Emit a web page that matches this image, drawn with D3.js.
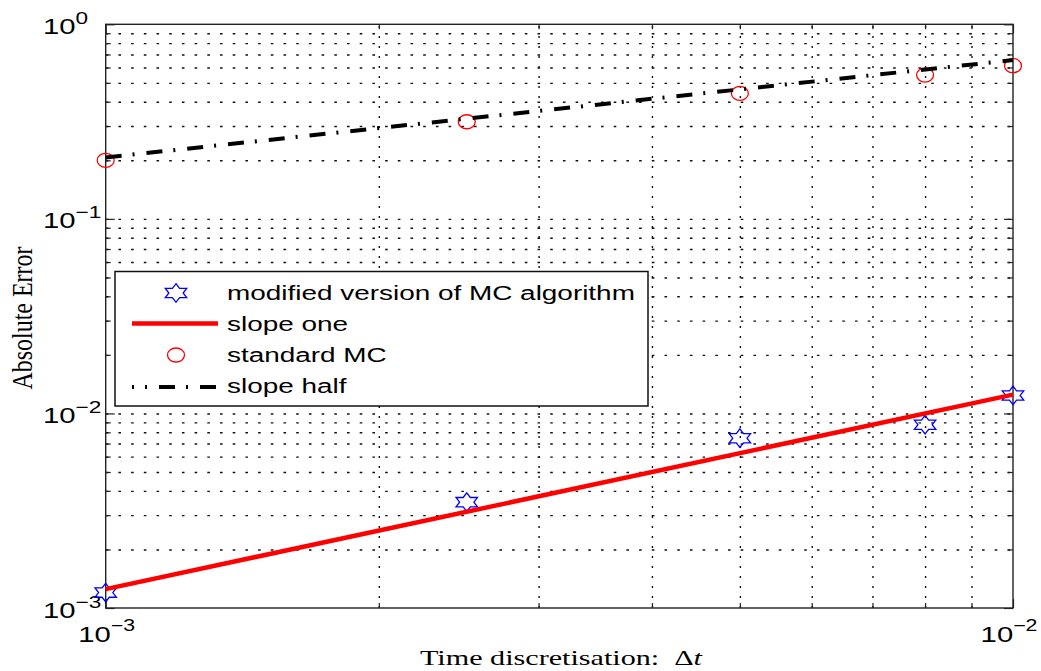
<!DOCTYPE html>
<html><head><meta charset="utf-8">
<script src="https://cdn.jsdelivr.net/npm/d3@7"></script>
<style>body{margin:0;background:#fff}svg{display:block}</style>
</head><body>
<svg id="chart" width="1041" height="671"></svg>
<script>
// ---- data ----
const timeSteps   = [0.001, 0.0025, 0.005, 0.008, 0.01];
const modifiedMC  = [0.00120, 0.00350, 0.00746, 0.00875, 0.01237];
const standardMC  = [0.200, 0.3156, 0.4417, 0.5484, 0.6126];
const slopeOneX   = [0.001, 0.01];
const slopeOneY   = [0.00125, 0.0125];
const slopeHalfX  = [0.001, 0.01];
const slopeHalfY  = [0.207, 0.6546];
const xTickValues = [0.001, 0.01];
const xTickExponents = ["\u22123", "\u22122"];
const yTickValues = [0.001, 0.01, 0.1, 1];
const yTickExponents = ["\u22123", "\u22122", "\u22121", "0"];
const legendLabels = ["modified version of MC algorithm", "slope one", "standard MC", "slope half"];
const xLabelText = "Time discretisation:\u00a0\u00a0\u0394";
const xLabelItalic = "t";
const yLabelText = "Absolute Error";

// ---- layout ----
const L = 105.7, R = 1013, T = 24.3, B = 608;
const SX = 1.33; // horizontal stretch of the reference rendering
const svg = d3.select("#chart");
const x = d3.scaleLog().domain([1e-3, 1e-2]).range([L, R]);
const y = d3.scaleLog().domain([1e-3, 1]).range([B, T]);

const xAll = x.ticks();
const yAll = y.ticks();
const xGrid = xAll.filter(v => v > 1.0001e-3 && v < 0.99e-2);
const yGrid = yAll.filter(v => v > 1.0001e-3 && v < 0.99);
const xMinor = xAll.filter(v => !xTickValues.some(t => Math.abs(t - v) / t < 1e-6));
const yMinor = yAll.filter(v => !yTickValues.some(t => Math.abs(t - v) / t < 1e-6));

// ---- grid ----
const gridY = svg.append("g").attr("transform", `translate(${L},0)`)
  .call(d3.axisLeft(y).tickValues(yGrid).tickSize(-(R - L)).tickFormat(""));
gridY.select(".domain").remove();
gridY.selectAll("line").attr("stroke", "#111").attr("stroke-width", 1.4).attr("stroke-dasharray", "2.6,10.1");

const gridX = svg.append("g").attr("transform", `translate(0,${B})`)
  .call(d3.axisBottom(x).tickValues(xGrid).tickSize(-(B - T)).tickFormat(""));
gridX.select(".domain").remove();
gridX.selectAll("line").attr("stroke", "#111").attr("stroke-width", 1.4).attr("stroke-dasharray", "2,8");

// ---- ticks (inside, all four sides) ----
function tickAxis(axis, transform) {
  const g = svg.append("g").attr("transform", transform).call(axis);
  g.select(".domain").remove();
  g.selectAll("line").attr("stroke", "#222").attr("stroke-width", 1.2);
}
tickAxis(d3.axisLeft(y).tickValues(yMinor).tickSize(-5).tickFormat(""), `translate(${L},0)`);
tickAxis(d3.axisLeft(y).tickValues(yTickValues).tickSize(-9).tickFormat(""), `translate(${L},0)`);
tickAxis(d3.axisRight(y).tickValues(yMinor).tickSize(-5).tickFormat(""), `translate(${R},0)`);
tickAxis(d3.axisRight(y).tickValues(yTickValues).tickSize(-9).tickFormat(""), `translate(${R},0)`);
tickAxis(d3.axisBottom(x).tickValues(xMinor).tickSize(-5).tickFormat(""), `translate(0,${B})`);
tickAxis(d3.axisBottom(x).tickValues(xTickValues).tickSize(-9).tickFormat(""), `translate(0,${B})`);
tickAxis(d3.axisTop(x).tickValues(xMinor).tickSize(-5).tickFormat(""), `translate(0,${T})`);
tickAxis(d3.axisTop(x).tickValues(xTickValues).tickSize(-9).tickFormat(""), `translate(0,${T})`);

// ---- border ----
svg.append("rect").attr("x", L).attr("y", T).attr("width", R - L).attr("height", B - T)
  .attr("fill", "none").attr("stroke", "#222").attr("stroke-width", 1.4);

// ---- tick labels ----
const sans = "'Liberation Sans', Arial, Helvetica, sans-serif";
yTickValues.forEach((v, i) => {
  const t = svg.append("text")
    .attr("transform", `translate(43,${y(v) + 9.5}) scale(${SX},1)`)
    .attr("font-family", sans).attr("font-size", 22).attr("fill", "#000");
  t.append("tspan").text("10");
  t.append("tspan").attr("font-size", 17).attr("dy", -10).text(yTickExponents[i]);
});
xTickValues.forEach((v, i) => {
  const t = svg.append("text")
    .attr("transform", `translate(${x(v) + (i === xTickValues.length - 1 ? -4 : 1)},641.7) scale(${SX},1)`)
    .attr("text-anchor", "middle")
    .attr("font-family", sans).attr("font-size", 22).attr("fill", "#000");
  t.append("tspan").text("10");
  t.append("tspan").attr("font-size", 16).attr("dy", -11).text(xTickExponents[i]);
});

// ---- axis labels ----
const serif = "'Liberation Serif', 'DejaVu Serif', serif";
svg.append("text")
  .attr("transform", `translate(32,318) scale(${SX},1) rotate(-90)`)
  .attr("text-anchor", "middle").attr("font-family", serif).attr("font-size", 22)
  .attr("textLength", 143).attr("lengthAdjust", "spacingAndGlyphs")
  .text(yLabelText);
const xl = svg.append("text")
  .attr("x", 561).attr("y", 665)
  .attr("text-anchor", "middle").attr("font-family", serif).attr("font-size", 22)
  .attr("textLength", 282).attr("lengthAdjust", "spacingAndGlyphs");
xl.append("tspan").text(xLabelText);
xl.append("tspan").attr("font-style", "italic").text(xLabelItalic);

// ---- marks ----
function hexagram(cx, cy, Rr) {
  const pts = [];
  for (let k = 0; k < 12; k++) {
    const a = (-90 + k * 30) * Math.PI / 180;
    const r = k % 2 === 0 ? Rr : Rr / Math.sqrt(3);
    pts.push([cx + SX * r * Math.cos(a), cy + r * Math.sin(a)]);
  }
  return "M" + pts.map(p => p.join(",")).join("L") + "Z";
}
const line = d3.line().x(d => x(d[0])).y(d => y(d[1]));

const marks = svg.append("g");
// stars
marks.selectAll("path.star").data(timeSteps.map((t, i) => [t, modifiedMC[i]])).join("path")
  .attr("class", "star")
  .attr("d", d => hexagram(x(d[0]), y(d[1]), 9.3))
  .attr("fill", "none").attr("stroke", "#0000ff").attr("stroke-width", 1.3);
// slope one
marks.append("path").datum(slopeOneX.map((t, i) => [t, slopeOneY[i]]))
  .attr("d", line).attr("fill", "none").attr("stroke", "#ff0000").attr("stroke-width", 4.5);
// circles
marks.selectAll("ellipse.circ").data(timeSteps.map((t, i) => [t, standardMC[i]])).join("ellipse")
  .attr("class", "circ")
  .attr("cx", d => x(d[0])).attr("cy", d => y(d[1]))
  .attr("rx", 8.5).attr("ry", 7)
  .attr("fill", "none").attr("stroke", "#ff0000").attr("stroke-width", 1.3);
// slope half
marks.append("path").datum(slopeHalfX.map((t, i) => [t, slopeHalfY[i]]))
  .attr("d", line).attr("fill", "none").attr("stroke", "#000").attr("stroke-width", 4)
  .attr("stroke-dasharray", "16,11,2,12");

// ---- legend ----
const lg = svg.append("g");
lg.append("rect").attr("x", 115).attr("y", 271.5).attr("width", 533).attr("height", 134.5)
  .attr("fill", "#fff").attr("stroke", "#111").attr("stroke-width", 1.5);
const rowsY = [293, 323.5, 355, 387];
const baseY = [300, 331, 362, 393];
lg.append("path").attr("d", hexagram(176, rowsY[0], 9.3))
  .attr("fill", "none").attr("stroke", "#0000ff").attr("stroke-width", 1.3);
lg.append("line").attr("x1", 132).attr("x2", 218).attr("y1", rowsY[1]).attr("y2", rowsY[1])
  .attr("stroke", "#ff0000").attr("stroke-width", 4.5);
lg.append("ellipse").attr("cx", 176).attr("cy", rowsY[2]).attr("rx", 8.5).attr("ry", 7)
  .attr("fill", "none").attr("stroke", "#ff0000").attr("stroke-width", 1.3);
lg.append("line").attr("x1", 132).attr("x2", 218).attr("y1", rowsY[3]).attr("y2", rowsY[3])
  .attr("stroke", "#000").attr("stroke-width", 4)
  .attr("stroke-dasharray", "16,11,2,12").attr("stroke-dashoffset", -27);
legendLabels.forEach((lab, i) => {
  lg.append("text")
    .attr("transform", `translate(227,${baseY[i]}) scale(${SX},1)`)
    .attr("font-family", sans).attr("font-size", 21).attr("fill", "#000")
    .text(lab);
});
</script>
</body></html>
